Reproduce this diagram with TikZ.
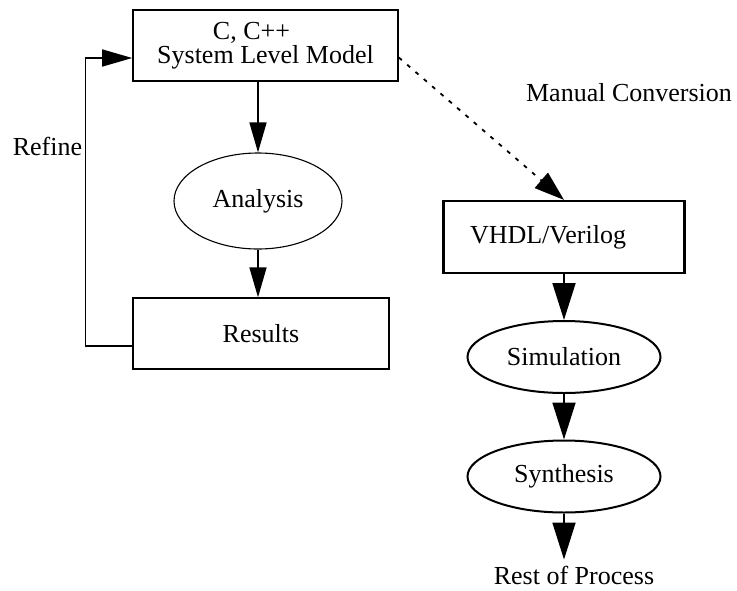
\documentclass[tikz,border=0pt]{standalone}
\usepackage{fontspec}
\setmainfont{Liberation Serif}
\usepackage{tikz}
\usetikzlibrary{arrows.meta,shapes.geometric,positioning}

\begin{document}
\begin{tikzpicture}[
        x=1pt, y=-1pt,
        every node/.style={font=\fontsize{26}{24}\selectfont},
        block/.style={rectangle, draw=black, line width=1.6pt, minimum width=265pt, minimum height=71pt, align=center, inner sep=0pt},
        oval/.style={ellipse, draw=black, line width=2pt, minimum width=193pt, minimum height=72pt, inner sep=0pt},
        arrow/.style={line width=1.5pt, -{Triangle[length=30pt, width=17pt]}},
        bigarrow/.style={line width=1.8pt, -{Triangle[length=37pt, width=23pt]}},
        dotarrow/.style={line width=1.8pt, dash pattern=on 4pt off 7pt, -{Triangle[length=30pt, width=20pt]}},
    ]
    \useasboundingbox (0,0) rectangle (737,590);

    % Left loop (system level)
    \node[block] (model) at (265.5,45.5) {C, C++\hspace*{28pt}\\System Level Model};
    \node[oval, line width=1.1pt, minimum width=168pt, minimum height=96pt] (analysis) at (258,201) {Analysis};
    \node[block, line width=1.3pt, minimum width=256pt] (results) at (261,333.5) {Results};
    \node (refine) at (47.5,146) {Refine};

    % Right flow (hardware)
    \node[block, line width=2.2pt, minimum width=241pt, minimum height=72pt] (vhdl) at (564,237) {VHDL/Verilog\hspace*{32pt}};
    \node[oval] (sim) at (564,357) {Simulation};
    \node[oval] (synth) at (564,476.5) {Synthesis};
    \node[inner sep=6pt] (rest) at (574,575) {Rest of Process};
    \node (conv) at (629,93) {Manual Conversion};

    % Connect left nodes
    \draw[arrow] (model.south -| analysis) -- (analysis);
    \draw[arrow] (analysis) -- (results.north -| analysis);
    \draw[arrow] ([yshift=-12.5pt]results.west) -- ++(-47,0) |- ([yshift=-12.5pt]model.west);

    % Conversion
    \draw[dotarrow] ([yshift=-12pt]model.east) -- (vhdl.north);

    % Connect right nodes
    \draw[bigarrow] (vhdl) -- (sim);
    \draw[bigarrow] (sim) -- (synth);
    \draw[bigarrow] (synth) -- (synth.south |- rest.north);

\end{tikzpicture}
\end{document}
